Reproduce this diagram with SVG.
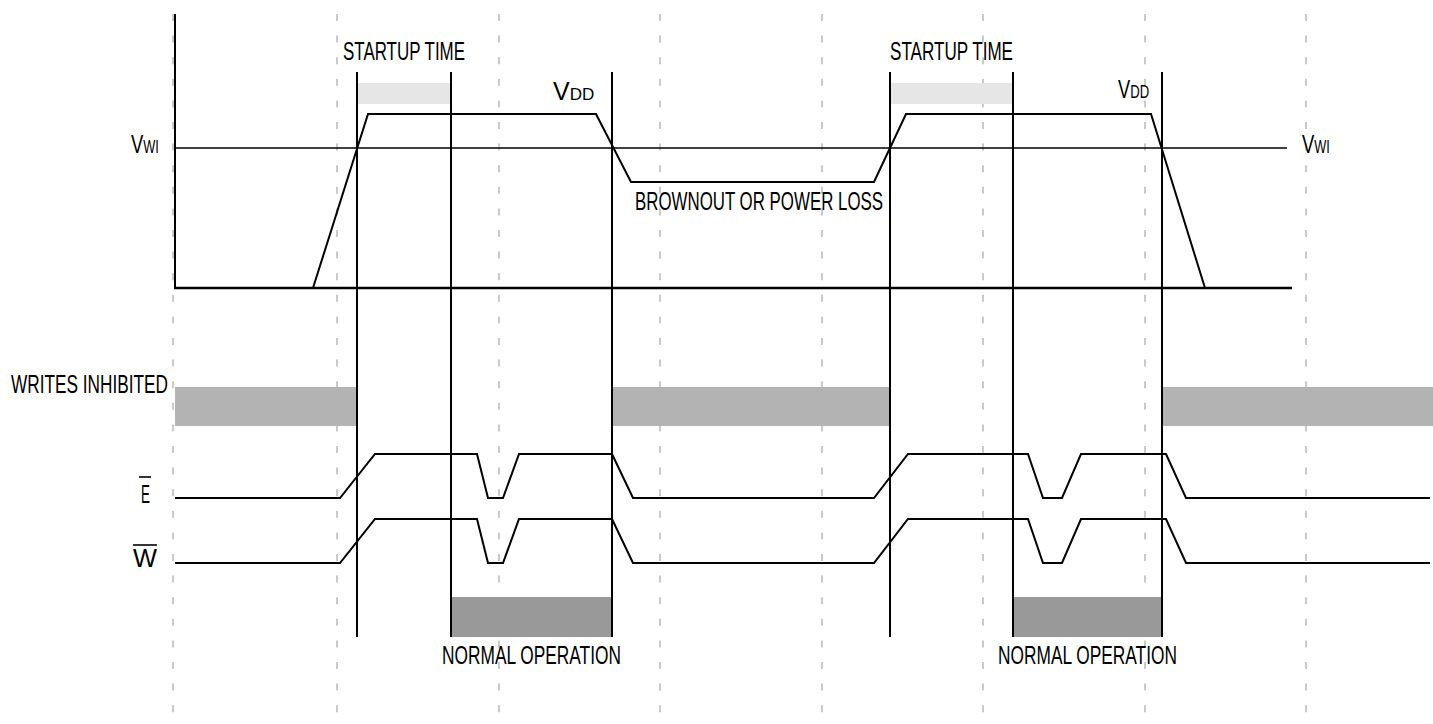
<svg xmlns="http://www.w3.org/2000/svg" width="1433" height="724" viewBox="0 0 1433 724">
<style>
  .grid { stroke: #bdbdbd; stroke-width: 1.6; stroke-dasharray: 7 14.6; fill: none; }
  .ln { stroke: #000; stroke-width: 2; fill: none; stroke-linejoin: miter; }
  .thin { stroke: #000; stroke-width: 1.6; fill: none; }
  .lbl { font-family: "Liberation Sans", Arial, sans-serif; font-size: 25px; fill: #000; }
  .inh { fill: #b3b3b3; }
  .norm { fill: #999999; }
  .start { fill: #e6e6e6; }
</style>
<rect width="1433" height="724" fill="#fff"/>
<g id="grid">
  <line class="grid" x1="173" y1="14" x2="173" y2="724"/>
  <line class="grid" x1="337" y1="14" x2="337" y2="724"/>
  <line class="grid" x1="499" y1="14" x2="499" y2="724"/>
  <line class="grid" x1="660" y1="14" x2="660" y2="724"/>
  <line class="grid" x1="822" y1="14" x2="822" y2="724"/>
  <line class="grid" x1="983" y1="14" x2="983" y2="724"/>
  <line class="grid" x1="1145" y1="14" x2="1145" y2="724"/>
  <line class="grid" x1="1306" y1="14" x2="1306" y2="724"/>
</g>
<g id="bars">
  <rect class="start" x="358" y="83" width="93" height="21"/>
  <rect class="start" x="891" y="83" width="122" height="21"/>
  <rect class="inh" x="175" y="387" width="182" height="39"/>
  <rect class="inh" x="612" y="387" width="278" height="39"/>
  <rect class="inh" x="1162" y="387" width="271" height="39"/>
  <rect class="norm" x="451" y="597" width="161" height="40"/>
  <rect class="norm" x="1013" y="597" width="149" height="40"/>
</g>
<g id="axes">
  <line class="ln" x1="175" y1="14" x2="175" y2="288"/>
  <line class="ln" x1="174" y1="288" x2="1292" y2="288" style="stroke-width:2.4"/>
  <line class="thin" x1="175" y1="148" x2="1287" y2="148"/>
</g>
<g id="markers">
  <line class="ln" x1="357" y1="72" x2="357" y2="637"/>
  <line class="ln" x1="451" y1="72" x2="451" y2="637"/>
  <line class="ln" x1="612" y1="72" x2="612" y2="637"/>
  <line class="ln" x1="890" y1="72" x2="890" y2="637"/>
  <line class="ln" x1="1013" y1="72" x2="1013" y2="637"/>
  <line class="ln" x1="1162" y1="72" x2="1162" y2="637"/>
</g>
<g id="connectors">
  <polyline id="vdd" class="ln" points="313,288 368,114 596,114 631,182 874,182 906,114 1151,114 1205,288"/>
  <polyline id="e-signal" class="ln" points="175,498 340,498 375,454 477,454 488,498 503,498 519,454 612,454 633,498 874,498 908,454 1028,454 1043,498 1062,498 1081,454 1166,454 1186,498 1430,498"/>
  <polyline id="w-signal" class="ln" points="175,563 340,563 375,519 477,519 488,563 503,563 519,519 612,519 633,563 874,563 908,519 1028,519 1043,563 1062,563 1081,519 1166,519 1186,563 1430,563"/>
</g>
<g id="labels">
  <g id="vwi-left"><text class="lbl" transform="translate(131,153) scale(0.71,1)"><tspan font-size="26">V</tspan><tspan font-size="18">WI</tspan></text></g>
  <g id="vwi-right"><text class="lbl" transform="translate(1302,153) scale(0.71,1)"><tspan font-size="26">V</tspan><tspan font-size="18">WI</tspan></text></g>
  <g id="startup-1"><text class="lbl" x="343" y="60" textLength="122" lengthAdjust="spacingAndGlyphs">STARTUP TIME</text></g>
  <g id="startup-2"><text class="lbl" x="890" y="60" textLength="123" lengthAdjust="spacingAndGlyphs">STARTUP TIME</text></g>
  <g id="vdd-1"><text class="lbl" x="553" y="100"><tspan font-size="25">V</tspan><tspan font-size="17">DD</tspan></text></g>
  <g id="vdd-2"><text class="lbl" transform="translate(1118,98) scale(0.73,1)"><tspan font-size="25">V</tspan><tspan font-size="18">DD</tspan></text></g>
  <g id="brownout"><text class="lbl" x="635" y="210" textLength="248" lengthAdjust="spacingAndGlyphs">BROWNOUT OR POWER LOSS</text></g>
  <g id="writes-inhibited"><text class="lbl" x="11" y="393" font-size="24" textLength="157" lengthAdjust="spacingAndGlyphs">WRITES INHIBITED</text></g>
  <g id="e-label"><text class="lbl" x="141" y="503" font-size="21" textLength="9" lengthAdjust="spacingAndGlyphs">E</text><line class="thin" x1="139" y1="477" x2="151" y2="477"/></g>
  <g id="w-label"><text class="lbl" x="133" y="567" font-size="22" textLength="24" lengthAdjust="spacingAndGlyphs">W</text><line class="thin" x1="133" y1="545" x2="157" y2="545"/></g>
  <g id="normal-1"><text class="lbl" x="442" y="664" textLength="179" lengthAdjust="spacingAndGlyphs">NORMAL OPERATION</text></g>
  <g id="normal-2"><text class="lbl" x="998" y="664" textLength="179" lengthAdjust="spacingAndGlyphs">NORMAL OPERATION</text></g>
</g>
</svg>
